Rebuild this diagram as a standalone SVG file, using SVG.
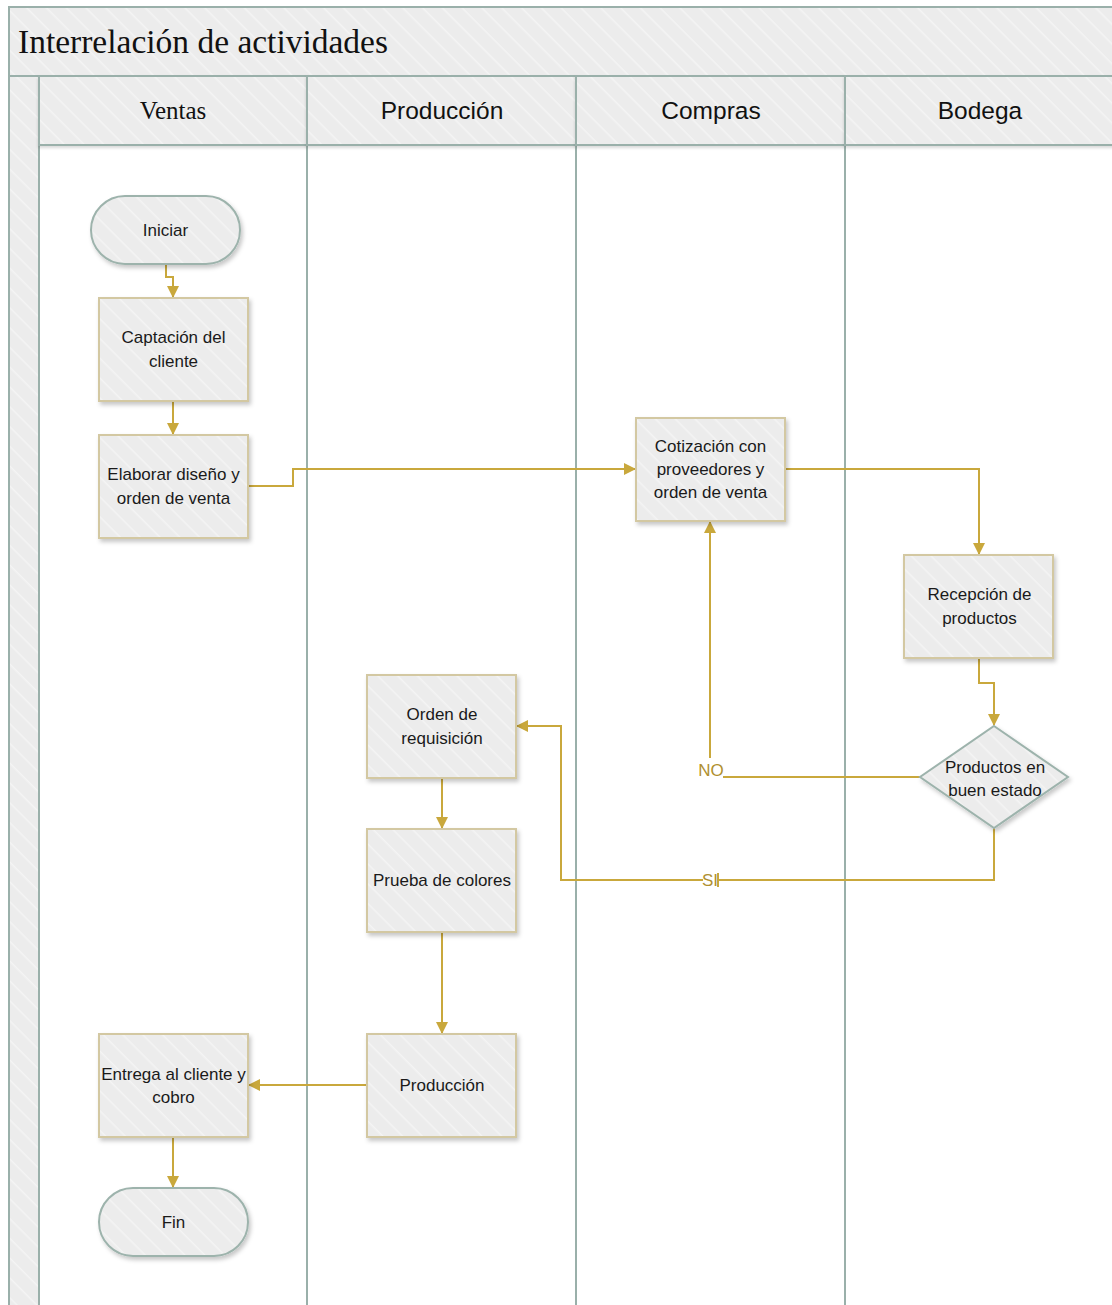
<svg xmlns="http://www.w3.org/2000/svg" width="1112" height="1305" viewBox="0 0 1112 1305">
<style>
.lane{fill:#ffffff;stroke:#9ab0aa;stroke-width:2}
.band{fill:url(#hatch);stroke:#9ab0aa;stroke-width:2}
.box{fill:url(#hatch);stroke:#d3c8a2;stroke-width:2;filter:url(#sh)}
.term{fill:url(#hatch);stroke:#9db3ac;stroke-width:2;filter:url(#sh)}
.t{font-family:"Liberation Sans",Arial,sans-serif;font-size:17px;fill:#1a1a1a;text-anchor:middle}
.h{font-family:"Liberation Sans",Arial,sans-serif;font-size:24.5px;fill:#111;text-anchor:middle}
.hs{font-family:"Liberation Serif","Times New Roman",serif;fill:#111}
.c{fill:none;stroke:#c9a83c;stroke-width:2}
.lbl{font-family:"Liberation Sans",Arial,sans-serif;font-size:17px;fill:#b09030;text-anchor:middle}
</style>
<defs>
<pattern id="hatch" patternUnits="userSpaceOnUse" width="14" height="14" patternTransform="rotate(45)">
<rect width="14" height="14" fill="#ececec"/>
<rect width="14" height="1.5" fill="#f4f4f4"/>
</pattern>
<filter id="sh" x="-10%" y="-10%" width="125%" height="130%">
<feDropShadow dx="2" dy="3" stdDeviation="2" flood-color="#000" flood-opacity="0.22"/>
</filter>
<filter id="hsh" x="-5%" y="-5%" width="110%" height="120%">
<feDropShadow dx="0" dy="2" stdDeviation="1.5" flood-color="#000" flood-opacity="0.15"/>
</filter>
<marker id="ar" viewBox="0 0 12 12" refX="11" refY="6" markerWidth="12" markerHeight="12" markerUnits="userSpaceOnUse" orient="auto">
<path d="M0,0 L12,6 L0,12 Z" fill="#c9a83c"/>
</marker>
</defs>

<g id="pool">
<rect x="0" y="0" width="1112" height="1305" fill="#ffffff"/>
<rect class="band" x="9" y="7" width="1110" height="69"/>
<text class="hs" x="18" y="53" font-size="34" textLength="370" lengthAdjust="spacingAndGlyphs">Interrelación de actividades</text>
<rect class="band" x="9" y="76" width="30" height="1240"/>
</g>

<g id="lane-ventas">
<rect class="lane" x="39" y="145" width="268" height="1170"/>
<rect class="band" x="39" y="76" width="268" height="69" filter="url(#hsh)"/>
<text class="hs" x="173" y="119" font-size="25" text-anchor="middle">Ventas</text>
</g>
<g id="lane-produccion">
<rect class="lane" x="307" y="145" width="269" height="1170"/>
<rect class="band" x="307" y="76" width="269" height="69" filter="url(#hsh)"/>
<text class="h" x="442" y="119">Producción</text>
</g>
<g id="lane-compras">
<rect class="lane" x="576" y="145" width="269" height="1170"/>
<rect class="band" x="576" y="76" width="269" height="69" filter="url(#hsh)"/>
<text class="h" x="711" y="119">Compras</text>
</g>
<g id="lane-bodega">
<rect class="lane" x="845" y="145" width="280" height="1170"/>
<rect class="band" x="845" y="76" width="280" height="69" filter="url(#hsh)"/>
<text class="h" x="980" y="119">Bodega</text>
</g>

<g id="connectors">
<path class="c" d="M166,264 V277 H173 V297" marker-end="url(#ar)"/>
<path class="c" d="M173,401 V434" marker-end="url(#ar)"/>
<path class="c" d="M248,486 H293 V469 H635" marker-end="url(#ar)"/>
<path class="c" d="M785,469 H979 V554" marker-end="url(#ar)"/>
<path class="c" d="M979,658 V683 H994 V725" marker-end="url(#ar)"/>
<path class="c" d="M920,777 H710 V522" marker-end="url(#ar)"/>
<path class="c" d="M994,828 V880 H561 V726 H517" marker-end="url(#ar)"/>
<path class="c" d="M442,778 V828" marker-end="url(#ar)"/>
<path class="c" d="M442,932 V1033" marker-end="url(#ar)"/>
<path class="c" d="M367,1085 H249" marker-end="url(#ar)"/>
<path class="c" d="M173,1137 V1187" marker-end="url(#ar)"/>
<rect x="698" y="758" width="25" height="21" fill="#ffffff"/>
<text class="lbl" x="711" y="776">NO</text>
<rect x="703" y="871" width="15" height="17" fill="#ffffff"/>
<text class="lbl" x="710" y="886">SI</text>
<path class="c" d="M718,873 V887"/>
</g>

<g id="n-iniciar">
<rect class="term" x="91" y="196" width="149" height="68" rx="34"/>
<text class="t" x="165.5" y="236">Iniciar</text>
</g>
<g id="n-captacion">
<rect class="box" x="99" y="298" width="149" height="103"/>
<text class="t" x="173.5" y="343">Captación del</text>
<text class="t" x="173.5" y="367">cliente</text>
</g>
<g id="n-elaborar">
<rect class="box" x="99" y="435" width="149" height="103"/>
<text class="t" x="173.5" y="480">Elaborar diseño y</text>
<text class="t" x="173.5" y="504">orden de venta</text>
</g>
<g id="n-cotizacion">
<rect class="box" x="636" y="418" width="149" height="103"/>
<text class="t" x="710.5" y="452">Cotización con</text>
<text class="t" x="710.5" y="475">proveedores y</text>
<text class="t" x="710.5" y="498">orden de venta</text>
</g>
<g id="n-recepcion">
<rect class="box" x="904" y="555" width="149" height="103"/>
<text class="t" x="979.5" y="600">Recepción de</text>
<text class="t" x="979.5" y="624">productos</text>
</g>
<g id="n-decision">
<polygon class="term" points="994,726 1068,777 994,828 920,777"/>
<text class="t" x="995" y="773">Productos en</text>
<text class="t" x="995" y="796">buen estado</text>
</g>
<g id="n-orden">
<rect class="box" x="367" y="675" width="149" height="103"/>
<text class="t" x="442" y="720">Orden de</text>
<text class="t" x="442" y="744">requisición</text>
</g>
<g id="n-prueba">
<rect class="box" x="367" y="829" width="149" height="103"/>
<text class="t" x="442" y="886">Prueba de colores</text>
</g>
<g id="n-produccion">
<rect class="box" x="367" y="1034" width="149" height="103"/>
<text class="t" x="442" y="1091">Producción</text>
</g>
<g id="n-entrega">
<rect class="box" x="99" y="1034" width="149" height="103"/>
<text class="t" x="173.5" y="1080">Entrega al cliente y</text>
<text class="t" x="173.5" y="1103">cobro</text>
</g>
<g id="n-fin">
<rect class="term" x="99" y="1188" width="149" height="68" rx="34"/>
<text class="t" x="173.5" y="1228">Fin</text>
</g>
</svg>
